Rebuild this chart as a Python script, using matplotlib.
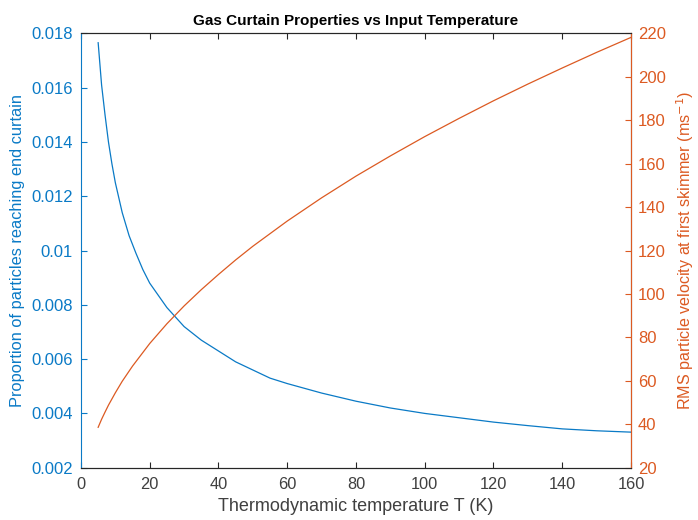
import numpy as np
import matplotlib
matplotlib.use("Agg")
import matplotlib.pyplot as plt

plt.rcParams['font.family'] = ['Liberation Sans', 'DejaVu Sans']

# fraction of particles reaching the end curtain
T_frac = [5, 6, 7, 8, 9, 10, 12, 14, 16, 18, 20, 25, 30, 35, 40, 45, 50, 55,
          60, 70, 80, 90, 100, 110, 120, 130, 140, 150, 160]
frac = [0.01766, 0.0161, 0.0150, 0.0140, 0.0132, 0.0125, 0.0114, 0.01055,
        0.0099, 0.0093, 0.0088, 0.0079, 0.0072, 0.0067, 0.0063, 0.0059,
        0.0056, 0.0053, 0.0051, 0.00475, 0.00445, 0.0042, 0.0040, 0.00384,
        0.00368, 0.00355, 0.00343, 0.00336, 0.00331]

# RMS velocity at first skimmer
T_vel = [5, 6, 7, 8, 10, 12, 15, 20, 25, 30, 35, 40, 45, 50, 60, 70, 80, 90,
         100, 110, 120, 130, 140, 150, 160]
vel = [38.6, 42.3, 45.6, 48.8, 54.5, 59.8, 66.8, 77.2, 86.3, 94.5, 102.0,
       109.0, 115.7, 122.0, 133.6, 144.3, 154.3, 163.6, 172.5, 180.9, 189.0,
       196.7, 204.1, 211.3, 218.2]

blue = '#0a7ac6'
orange = '#dc5a22'
dark = '#262626'
grey = '#404040'

fig = plt.figure(figsize=(6.98, 5.2), dpi=100)
ax = fig.add_axes([0.116, 0.1006, 0.788, 0.835])
ax2 = ax.twinx()

ax.plot(T_frac, frac, color=blue, lw=0.9)
ax2.plot(T_vel, vel, color=orange, lw=0.9)

ax.set_xlim(0, 160)
ax.set_ylim(0.002, 0.018)
ax2.set_ylim(20, 220)
ax.set_xticks(np.arange(0, 161, 20))
ax.set_yticks(np.arange(0.002, 0.0181, 0.002))
ax.set_yticklabels(['0.002', '0.004', '0.006', '0.008', '0.01', '0.012',
                    '0.014', '0.016', '0.018'])
ax2.set_yticks(np.arange(20, 221, 20))

for a in (ax, ax2):
    for s in a.spines.values():
        s.set_linewidth(0.8)
        s.set_color(dark)
ax.spines['left'].set_color(blue)
ax2.spines['right'].set_color(orange)
ax2.spines['left'].set_visible(False)

ax.tick_params(axis='x', direction='in', top=True, length=4, width=0.8,
               colors=dark, labelcolor=grey, labelsize=11.8, pad=7)
ax.tick_params(axis='y', direction='in', length=4, width=0.8,
               colors=blue, labelsize=12, pad=6)
ax2.tick_params(axis='y', direction='in', length=4, width=0.8,
                colors=orange, labelsize=12, pad=5)

ax.set_xlabel('Thermodynamic temperature T (K)', fontsize=13, color=grey,
              labelpad=4)
ax.set_ylabel('Proportion of particles reaching end curtain', fontsize=11.8,
              color=blue, labelpad=4)
ax2.set_ylabel('RMS particle velocity at first skimmer (ms$^{-1}$)',
               fontsize=11.6, color=orange, labelpad=6)
ax.set_title('Gas Curtain Properties vs Input Temperature', fontsize=11,
             fontweight='bold', color='black', pad=6)

fig.savefig('out.png', dpi=100)
